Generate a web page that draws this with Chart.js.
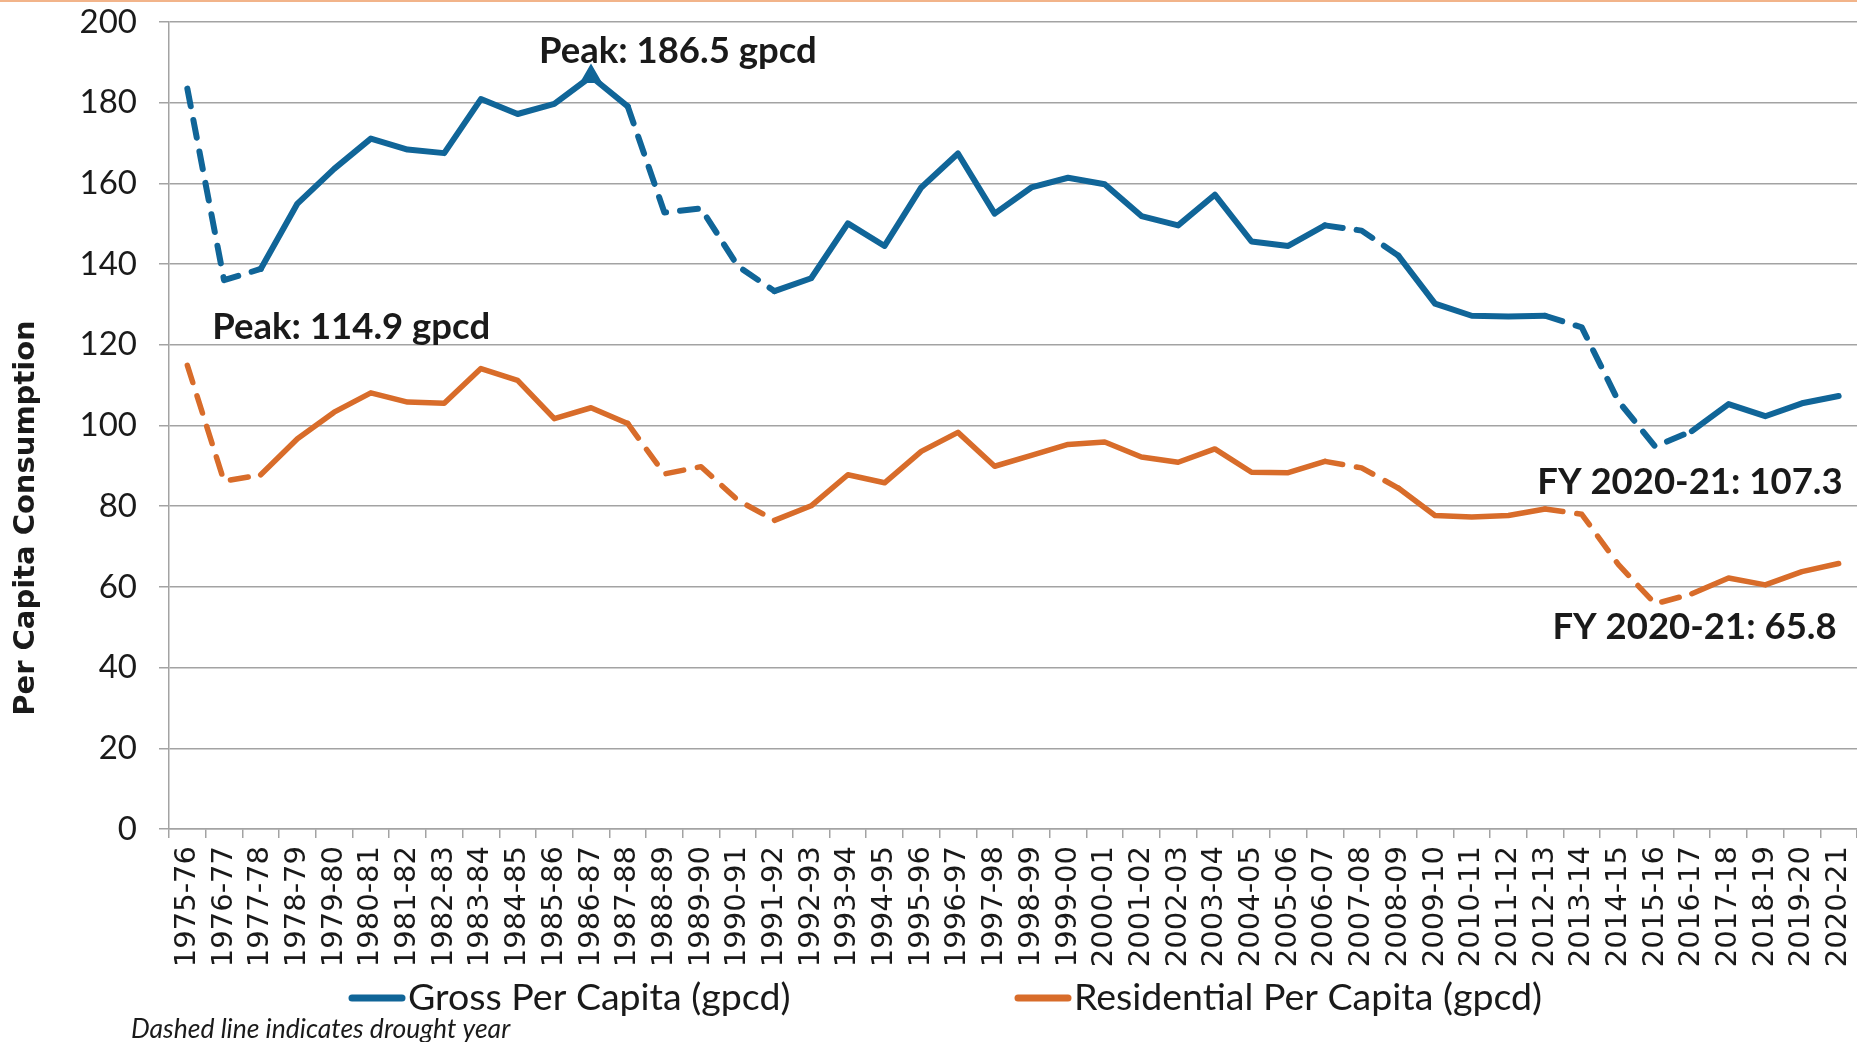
<!DOCTYPE html>
<html>
<head>
<meta charset="utf-8">
<title>Per Capita Consumption</title>
<script src="https://cdn.jsdelivr.net/npm/chart.js@4.4.0/dist/chart.umd.min.js"></script>
<style>
  html, body { margin: 0; padding: 0; background: #fff; }
  #wrap { position: relative; width: 1857px; height: 1042px; }
</style>
</head>
<body>
<div id="wrap"><canvas id="gpcdChart" width="1857" height="1042"></canvas></div>
<script>
// fiscal years on the x axis
const fiscalYears = [
  '1975-76', '1976-77', '1977-78', '1978-79', '1979-80', '1980-81', '1981-82', '1982-83',
  '1983-84', '1984-85', '1985-86', '1986-87', '1987-88', '1988-89', '1989-90', '1990-91',
  '1991-92', '1992-93', '1993-94', '1994-95', '1995-96', '1996-97', '1997-98', '1998-99',
  '1999-00', '2000-01', '2001-02', '2002-03', '2003-04', '2004-05', '2005-06', '2006-07',
  '2007-08', '2008-09', '2009-10', '2010-11', '2011-12', '2012-13', '2013-14', '2014-15',
  '2015-16', '2016-17', '2017-18', '2018-19', '2019-20', '2020-21'
];

// gallons per capita per day
const grossPerCapita = [
  183.5, 136.0, 138.8, 155.0, 163.6, 171.1, 168.4, 167.5, 180.9, 177.2, 179.7, 186.5,
  179.1, 152.8, 153.8, 139.5, 133.3, 136.5, 150.1, 144.5, 159.0, 167.4, 152.5, 159.0,
  161.4, 159.8, 151.9, 149.6, 157.2, 145.6, 144.5, 149.6, 148.3, 142.1, 130.2, 127.2,
  127.0, 127.2, 124.3, 106.0, 94.8, 98.6, 105.3, 102.3, 105.5, 107.3
];
const residentialPerCapita = [
  114.9, 86.2, 87.8, 96.7, 103.3, 108.1, 105.8, 105.5, 114.1, 111.2, 101.7, 104.4,
  100.5, 88.0, 89.8, 81.5, 76.5, 80.1, 87.8, 85.8, 93.6, 98.3, 89.9, 92.6,
  95.3, 95.9, 92.2, 90.9, 94.2, 88.4, 88.3, 91.1, 89.5, 84.5, 77.7, 77.3,
  77.7, 79.3, 78.0, 65.5, 55.8, 58.3, 62.2, 60.5, 63.8, 65.8
];

// segments ending in these years are drawn dashed
const droughtYears = [
  '1976-77', '1977-78', '1988-89', '1989-90', '1990-91', '1991-92',
  '2007-08', '2008-09', '2013-14', '2014-15', '2015-16', '2016-17'
];

const yTicks = [0, 20, 40, 60, 80, 100, 120, 140, 160, 180, 200];

const BLUE = '#106598';
const ORANGE = '#D86C2A';
const GRID = '#A3A3A3';
const INK = '#1a1a1a';

const isDrought = i => droughtYears.includes(fiscalYears[i]);
const dashed = ctx => isDrought(ctx.p1DataIndex) ? [18, 14] : undefined;

// callouts, placed relative to the point they describe
const callouts = [
  { text: 'Peak: 186.5 gpcd', series: 0, index: 11, dx: -52, dy: -25, align: 'left' },
  { text: 'Peak: 114.9 gpcd', series: 1, index: 0, dx: 25, dy: -38, align: 'left' },
  { text: 'FY 2020-21: 107.3', series: 0, index: 45, dx: 4, dy: 86, align: 'right' },
  { text: 'FY 2020-21: 65.8', series: 1, index: 45, dx: -2, dy: 64, align: 'right' }
];

const extrasPlugin = {
  id: 'extras',
  afterDraw(chart) {
    const { ctx, scales: { x, y } } = chart;
    ctx.save();

    // thin rule along the top
    ctx.fillStyle = '#F2B48A';
    ctx.fillRect(0, 0, chart.width, 2);

    // y axis title
    ctx.save();
    ctx.translate(26, 518);
    ctx.rotate(-Math.PI / 2);
    ctx.font = 'bold 29px "DejaVu Sans"';
    ctx.fillStyle = INK;
    ctx.textAlign = 'center';
    ctx.textBaseline = 'middle';
    ctx.fillText('Per Capita Consumption', 0, 0);
    ctx.restore();

    // callouts
    ctx.font = 'bold 36.5px Lato';
    ctx.fillStyle = INK;
    ctx.textBaseline = 'middle';
    callouts.forEach(c => {
      const v = chart.data.datasets[c.series].data[c.index];
      ctx.textAlign = c.align;
      ctx.fillText(c.text, x.getPixelForValue(c.index) + c.dx, y.getPixelForValue(v) + c.dy);
    });

    // legend
    const legendX = [349, 1015];
    ctx.font = '37.5px Lato';
    ctx.textAlign = 'left';
    chart.data.datasets.forEach((ds, i) => {
      const lx = legendX[i];
      ctx.strokeStyle = ds.borderColor;
      ctx.lineWidth = 7;
      ctx.lineCap = 'round';
      ctx.beginPath();
      ctx.moveTo(lx + 3, 998);
      ctx.lineTo(lx + 53, 998);
      ctx.stroke();
      ctx.fillStyle = INK;
      ctx.fillText(ds.label, lx + 59, 998);
    });

    // footnote
    ctx.font = 'italic 26.5px Lato';
    ctx.fillText('Dashed line indicates drought year', 131, 1029);

    ctx.restore();
  }
};

Chart.defaults.font.family = 'Lato';
Chart.defaults.color = INK;

new Chart(document.getElementById('gpcdChart'), {
  type: 'line',
  data: {
    labels: fiscalYears,
    datasets: [
      {
        label: 'Gross Per Capita (gpcd)',
        data: grossPerCapita,
        borderColor: BLUE,
        backgroundColor: BLUE,
        borderWidth: 6,
        borderCapStyle: 'round',
        borderJoinStyle: 'round',
        tension: 0,
        pointStyle: 'triangle',
        pointRadius: grossPerCapita.map((v, i) => i === 11 ? 7 : 0),
        segment: { borderDash: dashed }
      },
      {
        label: 'Residential Per Capita (gpcd)',
        data: residentialPerCapita,
        borderColor: ORANGE,
        backgroundColor: ORANGE,
        borderWidth: 5.5,
        borderCapStyle: 'round',
        borderJoinStyle: 'round',
        tension: 0,
        pointRadius: 0,
        segment: { borderDash: dashed }
      }
    ]
  },
  options: {
    responsive: false,
    animation: false,
    devicePixelRatio: 1,
    layout: { padding: { top: 22, right: -2, bottom: 0, left: 1 } },
    plugins: {
      legend: { display: false },
      tooltip: { enabled: false }
    },
    scales: {
      x: {
        offset: true,
        grid: { display: true, offset: true, drawOnChartArea: false, drawTicks: true, tickLength: 9, color: GRID, lineWidth: 1.5 },
        border: { display: true, color: GRID, width: 1.5 },
        ticks: { autoSkip: false, minRotation: 90, maxRotation: 90, padding: 8, font: { size: 29, family: '"DejaVu Sans"', lineHeight: 0.85 }, color: INK },
        afterFit: s => { s.height = 213; s.paddingLeft = 0; s.paddingRight = 0; }
      },
      y: {
        min: 0,
        max: 200,
        afterBuildTicks: s => { s.ticks = yTicks.map(v => ({ value: v })); },
        grid: { color: GRID, lineWidth: 1.5, tickLength: 10 },
        border: { display: true, color: GRID, width: 1.5 },
        ticks: { padding: 22, font: { size: 33 }, color: INK },
        afterFit: s => { s.width = 168; s.paddingTop = 0; s.paddingBottom = 0; }
      }
    }
  },
  plugins: [extrasPlugin]
});
</script>
</body>
</html>
